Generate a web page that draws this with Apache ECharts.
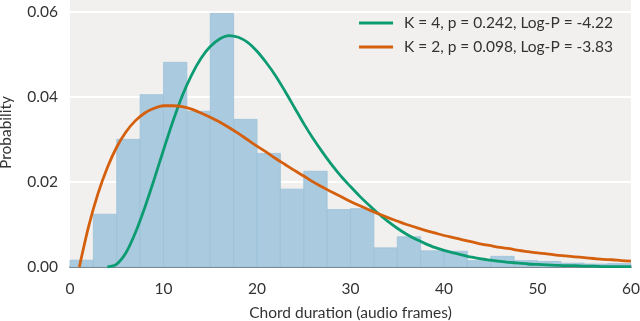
<!DOCTYPE html>
<html>
<head>
<meta charset="utf-8">
<script src="https://cdn.jsdelivr.net/npm/echarts@6/dist/echarts.min.js"></script>
<style>
html,body{margin:0;padding:0;background:#fff;}
#chart{width:640px;height:321px;}
</style>
</head>
<body>
<div id="chart"></div>
<script>
// Histogram bins (audio frames): start, end, probability
var binStarts = [0,2.5,5,7.5,10,12.5,15,17.5,20,22.5,25,27.5,30,32.5,35,37.5,40,42.5,45,47.5,50,52.5,55,57.5];
var binWidth = 2.5;
var binValues = [0.0016,0.0124,0.0300,0.0405,0.0481,0.0366,0.0596,0.0347,0.0267,0.0183,0.0225,0.0135,0.0137,0.0045,0.0071,0.0038,0.0037,0.0015,0.0025,0.0015,0.0013,0.0009,0.0007,0.0008];

// Model curve K = 4 (green), x = 4..60
var greenX = [4,5,6,7,8,9,10,11,12,13,14,15,16,17,18,19,20,21,22,23,24,25,26,27,28,29,30,31,32,33,34,35,36,37,38,39,40,41,42,43,44,45,46,47,48,49,50,51,52,53,54,55,56,57,58,59,60];
var greenY = [0,0.0007,0.0034,0.0081,0.0140,0.0206,0.0275,0.0342,0.0402,0.0451,0.0490,0.0518,0.0536,0.0544,0.0540,0.0528,0.0507,0.0480,0.0449,0.0413,0.0375,0.0337,0.0302,0.0270,0.0240,0.0213,0.0189,0.0166,0.0145,0.0125,0.0107,0.0091,0.0077,0.0065,0.0055,0.0046,0.0039,0.0033,0.0028,0.0023,0.0019,0.0016,0.0013,0.0011,0.0009,0.0007,0.0006,0.0005,0.0004,0.0003,0.0003,0.0002,0.0002,0.0001,0.0001,0.0001,0.0001];

// Model curve K = 2 (orange), x = 1..60
var orangeX = [1,2,3,4,5,6,7,8,9,10,11,12,13,14,15,16,17,18,19,20,21,22,23,24,25,26,27,28,29,30,31,32,33,34,35,36,37,38,39,40,41,42,43,44,45,46,47,48,49,50,51,52,53,54,55,56,57,58,59,60];
var orangeY = [0,0.0096,0.0173,0.0234,0.0282,0.0318,0.0344,0.0362,0.0373,0.0379,0.0379,0.0377,0.0371,0.0362,0.0352,0.0341,0.0328,0.0314,0.0299,0.0284,0.0270,0.0255,0.0241,0.0227,0.0214,0.0200,0.0188,0.0176,0.0165,0.0154,0.0144,0.0134,0.0125,0.0116,0.0108,0.0100,0.0093,0.0086,0.0080,0.0074,0.0069,0.0064,0.0059,0.0054,0.0050,0.0046,0.0043,0.0039,0.0036,0.0033,0.0031,0.0028,0.0026,0.0024,0.0022,0.0020,0.0018,0.0017,0.0015,0.0014];

var xTicks = [0,10,20,30,40,50,60];
var yTicks = [0,0.02,0.04,0.06];
var greenName = 'K = 4, p = 0.242, Log-P = -4.22';
var orangeName = 'K = 2, p = 0.098, Log-P = -3.83';

var histData = binStarts.map(function(s,i){ return [s, s+binWidth, binValues[i]]; });
var greenData = greenX.map(function(x,i){ return [x, greenY[i]]; });
var orangeData = orangeX.map(function(x,i){ return [x, orangeY[i]]; });

var FONT = 'Lato';
var FS = 15.5;
var chart = echarts.init(document.getElementById('chart'), null, {renderer:'canvas'});
chart.setOption({
  animation: false,
  backgroundColor: '#ffffff',
  textStyle: {fontFamily: FONT},
  grid: {left:70, right:9, top:-2, bottom:54, show:true, backgroundColor:'#f1f0ef', borderWidth:0,
         containLabel:false, outerBoundsMode:'none'},
  legend: {
    orient:'vertical', right:22, top:10, itemGap:8, itemWidth:34, itemHeight:3,
    icon:'rect',
    textStyle:{fontFamily:FONT, fontSize:FS, color:'#333', padding:[0,0,0,6]},
    data:[greenName, orangeName]
  },
  xAxis: {
    type:'value', min:xTicks[0], max:xTicks[xTicks.length-1], interval:10,
    name:'Chord duration (audio frames)', nameLocation:'middle', nameGap:38,
    nameTextStyle:{fontFamily:FONT, fontSize:FS, color:'#333'},
    axisLine:{show:true, lineStyle:{color:'#333', width:1.5}},
    axisTick:{show:false},
    axisLabel:{fontFamily:FONT, fontSize:FS, color:'#333', margin:14},
    splitLine:{show:false}
  },
  yAxis: {
    type:'value', min:0, max:0.06322, interval:0.02,
    name:'Probability', nameLocation:'middle', nameGap:56,
    nameTextStyle:{fontFamily:FONT, fontSize:FS, color:'#333'},
    axisLine:{show:false}, axisTick:{show:false},
    axisLabel:{fontFamily:FONT, fontSize:FS, color:'#333', margin:12,
      formatter:function(v){ var ok = yTicks.some(function(t){return Math.abs(t-v)<1e-9;}); return ok ? v.toFixed(2) : ''; }},
    splitLine:{show:true, lineStyle:{color:'#ffffff', width:2}}
  },
  series: [
    {
      type:'custom', name:'hist', data:histData, z:2,
      renderItem:function(params, api){
        var p0 = api.coord([api.value(0), api.value(2)]);
        var p1 = api.coord([api.value(1), 0]);
        return {type:'rect', shape:{x:p0[0], y:p0[1], width:p1[0]-p0[0], height:p1[1]-p0[1]},
          style:{fill:'#a9cadf', stroke:'#9dc1d7', lineWidth:0.8}};
      },
      encode:{x:[0,1], y:2}
    },
    {
      type:'line', name:greenName, data:greenData, showSymbol:false, smooth:0.3, z:3,
      lineStyle:{color:'#0d9b72', width:2.8}, itemStyle:{color:'#0d9b72'}
    },
    {
      type:'line', name:orangeName, data:orangeData, showSymbol:false, smooth:0.3, z:4,
      lineStyle:{color:'#d4600d', width:2.8}, itemStyle:{color:'#d4600d'}
    }
  ]
});
</script>
</body>
</html>
